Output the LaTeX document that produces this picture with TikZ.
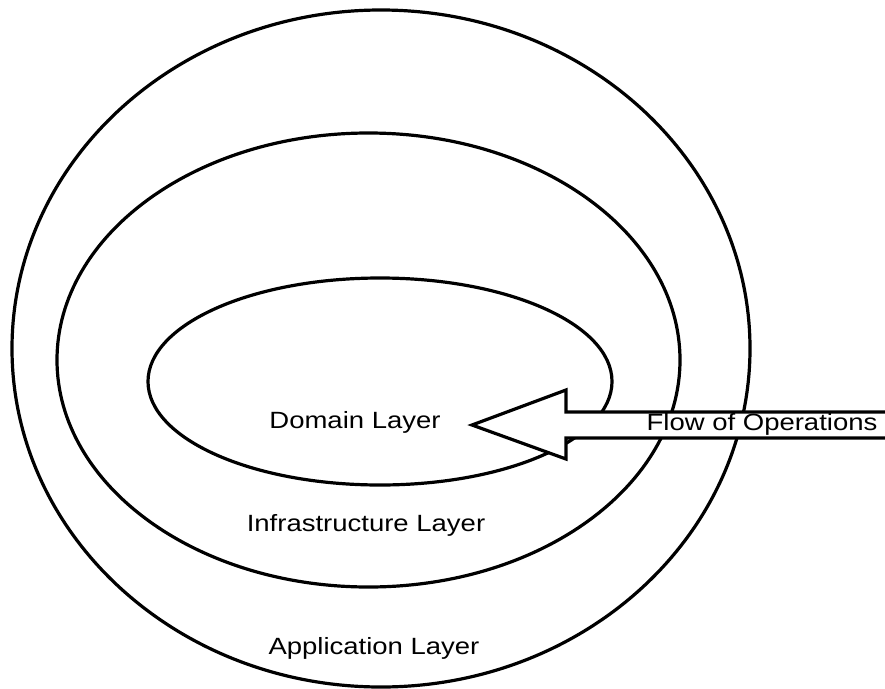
\documentclass[tikz,border=0pt]{standalone}
\usepackage{fontspec}
\setmainfont{Liberation Sans}
\usetikzlibrary{shapes.geometric}
\tikzset{layer/.style={draw, ellipse, line width=3.2pt, inner sep=0pt}}
\tikzset{lbl/.style={font=\fontsize{23.5}{28}\selectfont, xscale=1.17, inner sep=0pt}}

\begin{document}
\begin{tikzpicture}[x=1pt,y=-1pt]

\useasboundingbox (0,0) rectangle (885,688); %% page size

%% layers
\node[layer, minimum width=738pt, minimum height=677pt] (app) at (381,348.5) {};
\node[layer, minimum width=623pt, minimum height=454pt] (infra) at (368.5,360) {};
\node[layer, minimum width=464pt, minimum height=207pt] (dom) at (380,381.5) {};

%% arrow
\coordinate (tip) at (472,425);
\draw[line width=3.2pt, fill=white, line join=miter]
(tip) -- (566,390) -- (566,412) -- (900,412) -- (900,438)
-- (566,438) -- (566,459) -- cycle;

\node[lbl] (domlbl) at (355,422) {Domain Layer};
\node[lbl] (infralbl) at (366,525) {Infrastructure Layer};
\node[lbl] (applbl) at (374,648) {Application Layer};
\node[lbl] (flow) at (762,424) {Flow of Operations};

\end{tikzpicture}
\end{document}
